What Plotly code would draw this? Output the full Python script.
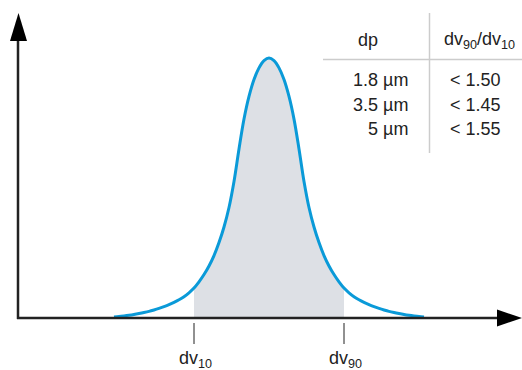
import plotly.graph_objects as go

# Particle size distribution (arbitrary size units) and relative volume frequency (%)
size = [96, 101, 106, 111, 116, 121, 126, 131, 136, 141, 146, 151, 156, 161, 166, 171,
        176, 181, 186, 191, 196, 201, 206, 211, 216, 221, 226, 231, 236, 241, 246, 251,
        256, 261, 266, 271, 276, 281, 286, 291, 296, 301, 306, 311, 316, 321, 326, 331,
        336, 341, 346, 351, 356, 361, 366, 371, 376, 381, 386, 391, 396, 401, 406]
freq = [0.4, 0.58, 0.8, 1.05, 1.35, 1.7, 2.1, 2.55, 3.1, 3.7, 4.35, 5.1, 6.0, 7.0, 8.2, 9.7,
        11.5, 13.9, 16.7, 20.0, 24.0, 29.0, 35.0, 42.5, 52.5, 65.0, 76.5, 85.2, 91.7, 96.2, 99.0, 100.0,
        99.0, 96.2, 91.7, 85.2, 76.5, 65.0, 52.5, 42.5, 35.0, 29.0, 24.0, 20.0, 16.7, 13.9, 11.5, 9.7,
        8.2, 7.0, 6.0, 5.1, 4.35, 3.7, 3.1, 2.55, 2.1, 1.7, 1.35, 1.05, 0.8, 0.58, 0.4]

dv10 = 176
dv90 = 326
tick_labels = ["dv<sub>10</sub>", "dv<sub>90</sub>"]

# Span table
dp_values = ["1.8 µm", "3.5 µm", "5 µm"]
ratio_values = ["< 1.50", "< 1.45", "< 1.55"]
table_headers = ["dp", "dv<sub>90</sub>/dv<sub>10</sub>"]

W, H = 522, 370
X0, X1 = -18, 504          # x range (1 unit per pixel)
Y0, Y1 = -20.0, 122.3      # y range

BLUE = "#0a9ad8"
FILL = "#dde0e5"
AXIS = "#222222"
TEXT = "#222222"
FONT = "Liberation Sans, Arial, sans-serif"
FS = 18
SPLINE = dict(shape="spline", smoothing=1.0)


def px(x):
    return x / W


def py(y):
    return 1 - y / H


fig = go.Figure()

# shaded dv10..dv90 area
band_x = [s for s in size if dv10 <= s <= dv90]
band_y = [f for s, f in zip(size, freq) if dv10 <= s <= dv90]
fig.add_trace(go.Scatter(x=band_x, y=band_y, mode="lines", line=dict(width=0, **SPLINE),
                         fill="tozeroy", fillcolor=FILL, hoverinfo="skip", showlegend=False))

# distribution curve
fig.add_trace(go.Scatter(x=size, y=freq, mode="lines",
                         line=dict(color=BLUE, width=3, **SPLINE),
                         showlegend=False))

shapes = []
# axes with arrowheads
shapes.append(dict(type="line", xref="paper", yref="paper", x0=px(18), x1=px(18), y0=py(319), y1=py(38),
                   line=dict(color=AXIS, width=2.5)))
shapes.append(dict(type="path", xref="paper", yref="paper",
                   path=f"M {px(18.5)} {py(13)} L {px(10)} {py(41)} L {px(27)} {py(41)} Z",
                   fillcolor="#000000", line=dict(width=0)))
shapes.append(dict(type="line", xref="paper", yref="paper", x0=px(17), x1=px(500), y0=py(318), y1=py(318),
                   line=dict(color=AXIS, width=2.5)))
shapes.append(dict(type="path", xref="paper", yref="paper",
                   path=f"M {px(522)} {py(318)} L {px(497)} {py(309.5)} L {px(497)} {py(326.5)} Z",
                   fillcolor="#000000", line=dict(width=0)))

# dv10 / dv90 tick marks
for v in (dv10, dv90):
    shapes.append(dict(type="line", xref="x", yref="paper", x0=v, x1=v, y0=py(323), y1=py(344),
                       line=dict(color=AXIS, width=1)))

# table rules
shapes.append(dict(type="line", xref="paper", yref="paper", x0=px(429.5), x1=px(429.5), y0=py(13), y1=py(153),
                   line=dict(color="#cccccc", width=1.5)))
shapes.append(dict(type="line", xref="paper", yref="paper", x0=px(323), x1=px(522), y0=py(59.5), y1=py(59.5),
                   line=dict(color="#cccccc", width=1.5)))

annotations = []
for v, t in zip((dv10, dv90), tick_labels):
    annotations.append(dict(x=v + 1, xref="x", y=py(359), yref="paper", text=t, showarrow=False,
                            xanchor="center", yanchor="middle", font=dict(family=FONT, size=FS, color=TEXT)))

annotations.append(dict(x=px(368), y=py(40), xref="paper", yref="paper", text=table_headers[0], showarrow=False,
                        xanchor="center", yanchor="middle", font=dict(family=FONT, size=FS, color=TEXT)))
annotations.append(dict(x=px(479), y=py(41), xref="paper", yref="paper", text=table_headers[1], showarrow=False,
                        xanchor="center", yanchor="middle", font=dict(family=FONT, size=FS, color=TEXT)))

row_y = [80, 105, 129]
for ry, d, r in zip(row_y, dp_values, ratio_values):
    annotations.append(dict(x=px(410), y=py(ry), xref="paper", yref="paper", text=d, showarrow=False,
                            xanchor="right", yanchor="middle", font=dict(family=FONT, size=FS, color=TEXT)))
    annotations.append(dict(x=px(475.5), y=py(ry), xref="paper", yref="paper", text=r, showarrow=False,
                            xanchor="center", yanchor="middle", font=dict(family=FONT, size=FS, color=TEXT)))

fig.update_layout(
    width=W, height=H,
    margin=dict(l=0, r=0, t=0, b=0),
    paper_bgcolor="white", plot_bgcolor="white",
    xaxis=dict(range=[X0, X1], visible=False, fixedrange=True),
    yaxis=dict(range=[Y0, Y1], visible=False, fixedrange=True),
    shapes=shapes, annotations=annotations,
    showlegend=False,
)

fig.write_html("out.html", config={"displayModeBar": False})
